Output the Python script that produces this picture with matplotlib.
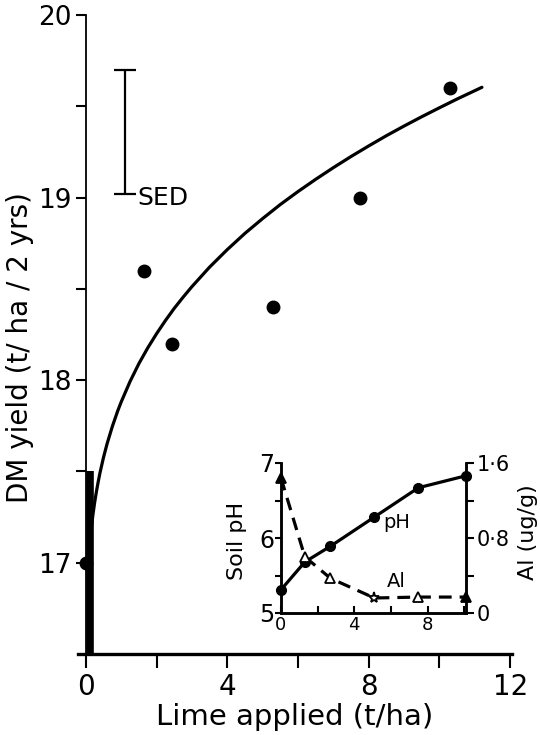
import matplotlib
matplotlib.use("Agg")
from matplotlib import pyplot as plt

# main plot: DM yield vs lime applied
limeRates = [0.0, 1.65, 2.45, 5.3, 7.75, 10.3]
dmYield = [17.0, 18.6, 18.2, 18.4, 19.0, 19.6]

# fitted response curve
curveX = [0.15, 0.2, 0.25, 0.3, 0.35, 0.4, 0.5, 0.6, 0.75, 0.9, 1.0, 1.25, 1.5, 1.75,
          2.0, 2.25, 2.5, 2.75, 3.0, 3.5, 4.0, 4.5, 5.0, 5.5, 6.0, 6.5, 7.0, 7.5,
          8.0, 8.5, 9.0, 9.5, 10.0, 10.5, 11.2]
curveY = [17.177, 17.260, 17.329, 17.389, 17.442, 17.491, 17.576, 17.650, 17.746, 17.830,
          17.880, 17.992, 18.090, 18.176, 18.254, 18.326, 18.393, 18.454, 18.512, 18.619,
          18.715, 18.804, 18.885, 18.962, 19.033, 19.100, 19.164, 19.225, 19.283, 19.339,
          19.392, 19.443, 19.492, 19.540, 19.604]

sedX = 1.1
sedLow = 19.02
sedHigh = 19.7

# inset: soil pH and Al vs lime applied
insetLime = [0.0, 1.3, 2.7, 5.1, 7.5, 10.1]
soilPh = [5.31, 5.68, 5.89, 6.28, 6.67, 6.83]
alConc = [1.44, 0.60, 0.37, 0.16, 0.17, 0.17]
alMarkers = ["^", "^", "^", "*", "^", "^"]
alFilled = [True, False, False, False, False, True]

plt.rcParams["font.family"] = "DejaVu Sans"

fig = plt.figure(figsize=(5.4, 7.35), dpi=100)
ax = fig.add_axes([78 / 540, 81 / 735, 434 / 540, 639 / 735])

ax.plot(curveX, curveY, "k-", lw=2.3, solid_capstyle="round", solid_joinstyle="round")
ax.plot([0.11, 0.11], [16.5, 17.5], "k-", lw=5.5, solid_capstyle="butt")
ax.plot(limeRates, dmYield, "ko", ms=9, clip_on=False, zorder=5)

ax.errorbar([sedX], [(sedLow + sedHigh) / 2], yerr=[(sedHigh - sedLow) / 2],
            fmt="none", ecolor="k", elinewidth=1.6, capsize=8, capthick=1.6)
ax.text(sedX + 0.35, sedLow - 0.02, "SED", fontsize=18, va="center", ha="left")

ax.set_xlim(-0.22, 12.05)
ax.set_ylim(16.5, 20.0)
for s in ["top", "right"]:
    ax.spines[s].set_visible(False)
ax.spines["left"].set_position(("data", 0))
ax.spines["left"].set_linewidth(1.3)
ax.spines["bottom"].set_linewidth(2.4)

ax.set_xticks([0, 4, 8, 12])
ax.set_xticklabels(["0", "4", "8", "12"])
ax.set_xticks([2, 6, 10], minor=True)
ax.set_yticks([17, 18, 19, 20])
ax.set_yticks([17.5, 18.5, 19.5], minor=True)
ax.tick_params(axis="x", which="both", direction="out", length=10, width=1.5, labelsize=20, pad=4)
ax.tick_params(axis="y", which="both", direction="out", length=7, width=1.5, labelsize=19, pad=3)

fig.text(20 / 540, 1 - 348 / 735, "DM yield (t/ ha / 2 yrs)", rotation=90,
         fontsize=20, ha="center", va="center")
fig.text(295 / 540, 1 - 717 / 735, "Lime applied (t/ha)", fontsize=21,
         ha="center", va="center")

# inset
ax2 = fig.add_axes([281 / 540, 122 / 735, 185 / 540, 150 / 735])
ax2.set_facecolor("none")
ax3 = ax2.twinx()
ax2.plot(insetLime, soilPh, "k-", lw=2.3, marker="o", ms=7, clip_on=False, zorder=4)
ax3.plot(insetLime, alConc, "k--", lw=2.3, dashes=(4, 2.5), clip_on=False)
for xv, yv, m, f in zip(insetLime, alConc, alMarkers, alFilled):
    ax3.plot([xv], [yv], marker=m, ms=8 if m == "*" else 6.5, mec="k", mew=1.3,
             mfc="k" if f else "white", clip_on=False, zorder=5)

ax2.set_xlim(0, 10.1)
ax2.set_ylim(5, 7)
ax3.set_ylim(0, 1.6)
for a in [ax2, ax3]:
    a.spines["top"].set_visible(False)
    for s in ["left", "right", "bottom"]:
        a.spines[s].set_linewidth(1.8)

ax2.set_xticks([0, 4, 8])
ax2.set_xticks([2, 6, 10], minor=True)
ax2.set_yticks([5, 6, 7])
ax2.set_yticks([5.5, 6.5], minor=True)
ax2.tick_params(axis="x", which="both", direction="in", length=5, width=1.5, labelsize=13, pad=2)
ax2.tick_params(axis="y", which="both", direction="out", length=4, width=1.5, labelsize=17, pad=1)
ax3.set_yticks([0, 0.8, 1.6])
ax3.set_yticklabels(["0", "0·8", "1·6"])
ax3.set_yticks([0.4, 1.2], minor=True)
ax3.tick_params(axis="y", which="both", direction="out", length=6, width=1.5, labelsize=15, pad=2)

ax2.text(6.3, 6.2, "pH", fontsize=14, ha="center", va="center")
ax2.text(6.3, 5.42, "Al", fontsize=14, ha="center", va="center")
fig.text(237 / 540, 1 - 541 / 735, "Soil pH", rotation=90, fontsize=16, ha="center", va="center")
fig.text(528 / 540, 1 - 532 / 735, "Al (ug/g)", rotation=90, fontsize=16, ha="center", va="center")

plt.savefig("out.png", dpi=100)
